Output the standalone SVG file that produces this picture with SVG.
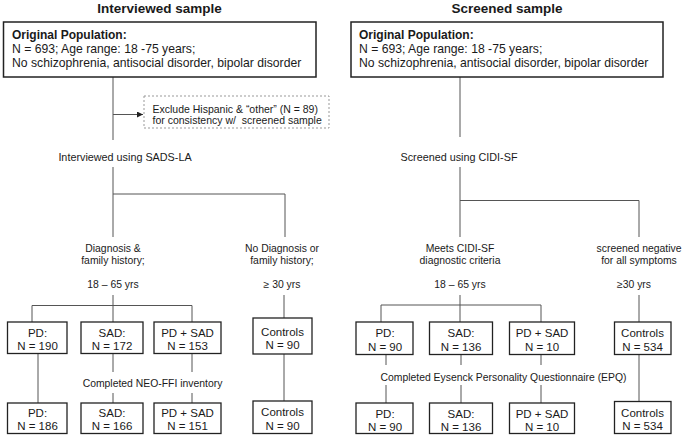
<svg xmlns="http://www.w3.org/2000/svg" width="682" height="438" viewBox="0 0 682 438">
<defs>
<style>
text{font-family:"Liberation Sans",Arial,Helvetica,sans-serif;fill:#1a1a1a}
.title{font-size:13.5px;font-weight:bold;text-anchor:middle}
.hb{font-size:12px;font-weight:bold}
.ht{font-size:12.2px}
.lbl{font-size:10.4px;text-anchor:middle}
.lbl2{font-size:10.8px;text-anchor:middle}
.bt{font-size:11.5px;text-anchor:middle}
.box{fill:#fff;stroke:#222;stroke-width:1.3}
.bigbox{fill:#fff;stroke:#222;stroke-width:1.5}
.dash{fill:#fff;stroke:#999;stroke-width:1;stroke-dasharray:2 2}
.ln{fill:none;stroke:#555;stroke-width:1}
</style>
<marker id="arr" viewBox="0 0 10 10" refX="10" refY="5" markerWidth="6" markerHeight="6" markerUnits="userSpaceOnUse" orient="auto">
<path d="M0,0 L10,5 L0,10 z" fill="#222"/>
</marker>
</defs>
<rect width="682" height="438" fill="#fff"/>

<text class="title" x="159.5" y="13">Interviewed sample</text>
<text class="title" x="507" y="13">Screened sample</text>

<g id="connectors">
<!-- left -->
<path class="ln" d="M113,77 V140"/>
<path class="ln" d="M113,114.5 H143" marker-end="url(#arr)"/>
<path class="ln" d="M113,167 V237 M113,194 H285 V237"/>
<path class="ln" d="M113,295 V305.5 M32,322 V305.5 H192 V322 M113,305.5 V322"/>
<path class="ln" d="M284,295 V318 M284,354 V403"/>
<path class="ln" d="M38,353 V403"/>
<path class="ln" d="M113,353 V372 M113,393 V403"/>
<path class="ln" d="M192,353 V372 M192,393 V403"/>
<!-- right -->
<path class="ln" d="M460,77 V137"/>
<path class="ln" d="M460,167 V237 M460,200.5 H639 V237"/>
<path class="ln" d="M460,295 V305 M381,322 V305 H541 V322 M460,305 V322"/>
<path class="ln" d="M639,295 V322 M639,354 V403"/>
<path class="ln" d="M386,354 V365 M386,385 V403"/>
<path class="ln" d="M461,354 V365 M461,385 V403"/>
<path class="ln" d="M541,354 V365 M541,385 V403"/>
</g>

<g id="left-orig">
<rect class="bigbox" x="3.5" y="22" width="312.5" height="55"/>
<text class="hb" x="12" y="38.5">Original Population:</text>
<text class="ht" x="12" y="52.5">N = 693; Age range: 18 -75 years;</text>
<text class="ht" x="12" y="67">No schizophrenia, antisocial disorder, bipolar disorder</text>
</g>
<g id="right-orig">
<rect class="bigbox" x="351" y="22" width="312" height="55"/>
<text class="hb" x="359" y="38.5">Original Population:</text>
<text class="ht" x="359" y="52.5">N = 693; Age range: 18 -75 years;</text>
<text class="ht" x="359" y="67">No schizophrenia, antisocial disorder, bipolar disorder</text>
</g>

<g id="exclude">
<rect class="dash" x="144" y="96" width="185" height="32"/>
<text style="font-size:10.5px" x="152.5" y="112.5">Exclude Hispanic &amp; “other” (N = 89)</text>
<text style="font-size:10.5px;white-space:pre" xml:space="preserve" x="152.5" y="124">for consistency w/  screened sample</text>
</g>

<g id="left-labels">
<text class="lbl2" x="125" y="161">Interviewed using SADS-LA</text>
<text class="lbl" x="113" y="252">Diagnosis &amp;</text>
<text class="lbl" x="113" y="263.5">family history;</text>
<text class="lbl" x="113" y="288">18 – 65 yrs</text>
<text class="lbl" x="282" y="252">No Diagnosis or</text>
<text class="lbl" x="282" y="263.5">family history;</text>
<text class="lbl" x="282" y="288">≥ 30 yrs</text>
<text class="lbl" x="152.5" y="387">Completed NEO-FFI inventory</text>
</g>

<g id="right-labels">
<text class="lbl2" x="459" y="161">Screened using CIDI-SF</text>
<text class="lbl" x="460" y="252">Meets CIDI-SF</text>
<text class="lbl" x="460" y="263.5">diagnostic criteria</text>
<text class="lbl" x="460" y="288">18 – 65 yrs</text>
<text class="lbl" x="639" y="252">screened negative</text>
<text class="lbl" x="639" y="263.5">for all symptoms</text>
<text class="lbl" x="634" y="288">≥30 yrs</text>
<text class="lbl" x="503.5" y="381">Completed Eysenck Personality Questionnaire (EPQ)</text>
</g>

<g id="l-pd1"><rect class="box" x="7.5" y="322" width="59.5" height="31.5"/><text class="bt" x="37.5" y="336.5">PD:</text><text class="bt" x="37.5" y="349.5">N = 190</text></g>
<g id="l-sad1"><rect class="box" x="81" y="322" width="62" height="31.5"/><text class="bt" x="112" y="336.5">SAD:</text><text class="bt" x="112" y="349.5">N = 172</text></g>
<g id="l-both1"><rect class="box" x="154" y="322" width="67" height="31.5"/><text class="bt" x="187.5" y="336.5">PD + SAD</text><text class="bt" x="187.5" y="349.5">N = 153</text></g>
<g id="l-ctrl1"><rect class="box" x="253" y="318" width="59" height="36"/><text class="bt" x="282.5" y="335.5">Controls</text><text class="bt" x="282.5" y="348.5">N = 90</text></g>

<g id="l-pd2"><rect class="box" x="7.5" y="403" width="59.5" height="30.5"/><text class="bt" x="37.5" y="417">PD:</text><text class="bt" x="37.5" y="430">N = 186</text></g>
<g id="l-sad2"><rect class="box" x="81" y="403" width="62" height="30.5"/><text class="bt" x="112" y="417">SAD:</text><text class="bt" x="112" y="430">N = 166</text></g>
<g id="l-both2"><rect class="box" x="154" y="403" width="67" height="30.5"/><text class="bt" x="187.5" y="417">PD + SAD</text><text class="bt" x="187.5" y="430">N = 151</text></g>
<g id="l-ctrl2"><rect class="box" x="253" y="401" width="59" height="32.5"/><text class="bt" x="282.5" y="416">Controls</text><text class="bt" x="282.5" y="429.5">N = 90</text></g>

<g id="r-pd1"><rect class="box" x="356" y="322" width="57" height="32.5"/><text class="bt" x="385" y="337">PD:</text><text class="bt" x="385" y="350.5">N = 90</text></g>
<g id="r-sad1"><rect class="box" x="429.5" y="322" width="63" height="32.5"/><text class="bt" x="461" y="337">SAD:</text><text class="bt" x="461" y="350.5">N = 136</text></g>
<g id="r-both1"><rect class="box" x="509.5" y="322" width="65" height="32.5"/><text class="bt" x="542" y="337">PD + SAD</text><text class="bt" x="542" y="350.5">N = 10</text></g>
<g id="r-ctrl1"><rect class="box" x="614.5" y="322" width="56.5" height="32.5"/><text class="bt" x="642.5" y="337">Controls</text><text class="bt" x="642.5" y="350.5">N = 534</text></g>

<g id="r-pd2"><rect class="box" x="356" y="403" width="57" height="30.5"/><text class="bt" x="385" y="417.5">PD:</text><text class="bt" x="385" y="430.5">N = 90</text></g>
<g id="r-sad2"><rect class="box" x="429.5" y="403" width="63" height="30.5"/><text class="bt" x="461" y="417.5">SAD:</text><text class="bt" x="461" y="430.5">N = 136</text></g>
<g id="r-both2"><rect class="box" x="509.5" y="403" width="65" height="30.5"/><text class="bt" x="542" y="417.5">PD + SAD</text><text class="bt" x="542" y="430.5">N = 10</text></g>
<g id="r-ctrl2"><rect class="box" x="614.5" y="401.5" width="56.5" height="32"/><text class="bt" x="642.5" y="416.5">Controls</text><text class="bt" x="642.5" y="430">N = 534</text></g>
</svg>
